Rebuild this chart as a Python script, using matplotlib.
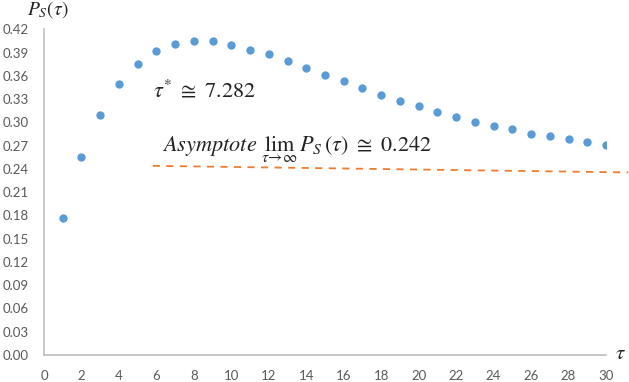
import numpy as np
import matplotlib.pyplot as plt

plt.rcParams["mathtext.fontset"] = "stix"

# values
tau = list(range(1, 31))
ps = [0.177, 0.255, 0.310, 0.349, 0.376, 0.392, 0.401, 0.405, 0.405, 0.400,
      0.394, 0.388, 0.379, 0.370, 0.361, 0.3535, 0.3445, 0.3355, 0.328, 0.321,
      0.313, 0.3076, 0.301, 0.2955, 0.2916, 0.285, 0.282, 0.278, 0.275, 0.2715]

# dashed asymptote guide
asym_x = [5.8, 31.2]
asym_y = [0.244, 0.2355]

xticks = list(range(0, 31, 2))
yticks = [i * 0.03 for i in range(15)]

fig = plt.figure(figsize=(6.29, 3.82), dpi=100)
ax = fig.add_axes([0.070, 0.0707, 0.8934, 0.8523])

ax.scatter(tau, ps, s=36, color="#5B9BD5", zorder=3, linewidths=0)
ax.plot(asym_x, asym_y, color="#ED7D31", lw=1.3, ls=(0, (4, 3.5)), clip_on=False)

ax.set_xlim(0, 30)
ax.set_ylim(0, 0.42)
ax.set_xticks(xticks)
ax.set_yticks(yticks)
ax.set_yticklabels([f"{v:.2f}" for v in yticks])
ax.tick_params(length=0, labelsize=9.5, labelcolor="#595959", pad=11)
for lbl in ax.get_xticklabels() + ax.get_yticklabels():
    lbl.set_family("Lato")

for s in ["top", "right"]:
    ax.spines[s].set_visible(False)
for s in ["left", "bottom"]:
    ax.spines[s].set_color("#bfbfbf")
    ax.spines[s].set_linewidth(1.2)

ax.text(5.8, 0.332, r"$\tau^{*}\ \cong\ 7.282$", fontsize=16, color="#222222", va="baseline")
ax.text(6.29, 0.2616, r"$Asymptote\ \lim_{\tau\rightarrow\infty}\,P_S(\tau)\ \cong\ 0.242$",
        fontsize=16, color="#222222", va="baseline")

fig.text(27 / 629, 1 - 15 / 382, r"$P_S(\tau)$", fontsize=14, color="#222222", va="baseline")
fig.text(620 / 629, 1 - 353 / 382, r"$\tau$", fontsize=15, color="#222222", ha="center", va="center")

plt.savefig("out.png")
